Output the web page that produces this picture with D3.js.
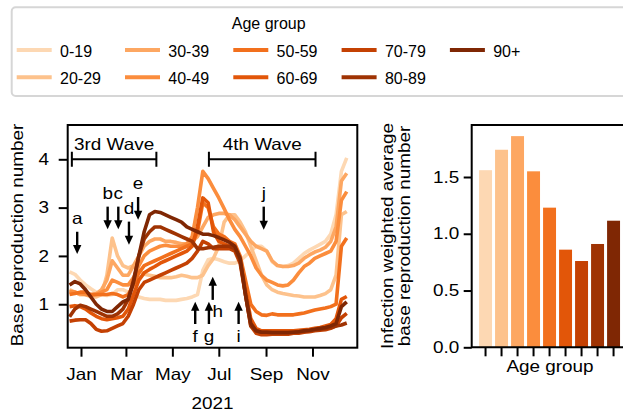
<!DOCTYPE html>
<html><head><meta charset="utf-8">
<script src="https://cdn.jsdelivr.net/npm/d3@7"></script>
<style>
body{margin:0;background:#fff}
text{font-family:"Liberation Sans",Arial,Helvetica,sans-serif;fill:#000}
</style></head><body>
<svg id="chart" width="623" height="413"></svg>
<script>
const ageGroups = ['0-19','20-29','30-39','40-49','50-59','60-69','70-79','80-89','90+'];

const dates = ['2020-12-17','2020-12-24','2020-12-31','2021-01-07','2021-01-14','2021-01-21','2021-01-28',
  '2021-02-04','2021-02-11','2021-02-18','2021-02-25','2021-03-04','2021-03-11','2021-03-18','2021-03-25',
  '2021-04-01','2021-04-08','2021-04-15','2021-04-22','2021-04-29','2021-05-06','2021-05-13','2021-05-20',
  '2021-05-27','2021-06-03','2021-06-10','2021-06-17','2021-06-24','2021-07-01','2021-07-08','2021-07-15',
  '2021-07-22','2021-07-29','2021-08-05','2021-08-12','2021-08-19','2021-08-26','2021-09-02','2021-09-09',
  '2021-09-16','2021-09-23','2021-09-30','2021-10-07','2021-10-14','2021-10-21','2021-10-28','2021-11-04',
  '2021-11-11','2021-11-18','2021-11-25','2021-12-02','2021-12-09','2021-12-16'];

const r0019 = [1.67,1.62,1.50,1.40,1.32,1.25,1.20,1.18,1.20,1.30,1.30,1.25,1.20,1.15,1.12,1.10,1.10,1.10,1.08,1.08,
  1.08,1.10,1.12,1.15,1.20,1.70,1.92,1.95,1.92,1.88,1.85,1.85,1.90,2.00,2.10,2.20,2.20,2.10,1.88,1.80,
  1.78,1.80,1.85,1.95,2.05,2.12,2.18,2.24,2.30,2.45,2.85,3.75,4.03];
const r2029 = [1.30,1.25,1.20,1.20,1.15,1.15,1.20,1.60,2.37,2.00,1.80,1.75,1.80,1.70,1.62,1.60,1.58,1.55,1.55,1.55,
  1.57,1.60,1.58,1.55,1.55,1.60,1.80,1.95,2.20,2.70,2.85,2.85,2.70,2.50,2.20,1.90,1.60,1.40,1.30,1.25,
  1.22,1.20,1.18,1.17,1.15,1.15,1.15,1.18,1.22,1.30,1.60,2.85,2.92];
const r3039 = [1.25,1.25,1.20,1.20,1.20,1.22,1.30,1.50,1.90,1.75,1.60,1.60,1.80,2.00,2.20,2.30,2.35,2.35,2.30,2.30,
  2.28,2.25,2.25,2.30,2.40,2.60,2.80,2.85,2.88,2.88,2.85,2.75,2.60,2.45,2.30,2.20,2.15,2.10,1.90,1.80,
  1.78,1.78,1.80,1.85,1.95,2.02,2.08,2.12,2.18,2.30,2.60,3.55,3.71];
const r4049 = [1.27,1.25,1.22,1.20,1.18,1.20,1.25,1.30,1.50,1.45,1.40,1.40,1.55,1.80,2.00,2.10,2.15,2.20,2.22,2.20,
  2.20,2.20,2.25,2.40,3.00,3.75,3.60,3.40,3.20,2.98,2.75,2.55,2.40,2.20,2.00,1.75,1.60,1.50,1.45,1.40,
  1.38,1.40,1.50,1.65,1.78,1.85,1.95,2.00,2.05,2.10,2.30,3.15,3.33];
const r5059 = [1.20,1.22,1.25,1.25,1.20,1.20,1.20,1.20,1.22,1.20,1.15,1.20,1.40,1.65,1.80,1.85,1.90,1.95,2.00,2.05,
  2.10,2.15,2.20,2.25,2.50,3.10,3.00,2.60,2.45,2.40,2.30,2.25,2.00,1.50,1.00,0.85,0.78,0.77,0.80,0.78,
  0.78,0.78,0.78,0.80,0.82,0.85,0.88,0.90,0.92,0.95,1.00,2.20,2.37];
const r6069 = [0.95,0.97,0.95,0.90,0.82,0.75,0.70,0.68,0.70,0.72,0.75,0.90,1.20,1.50,1.65,1.72,1.78,1.85,1.90,1.95,
  2.00,2.05,2.10,2.20,2.60,3.20,3.10,2.50,2.30,2.25,2.20,2.15,1.90,1.30,0.70,0.50,0.45,0.45,0.45,0.45,
  0.45,0.45,0.45,0.46,0.47,0.48,0.50,0.52,0.55,0.58,0.70,1.10,1.16];
const r7079 = [0.65,0.67,0.68,0.68,0.60,0.48,0.44,0.45,0.50,0.55,0.60,0.75,1.00,1.30,1.45,1.50,1.55,1.60,1.65,1.70,
  1.75,1.80,1.85,1.95,2.10,2.30,2.25,2.15,2.15,2.15,2.15,2.10,1.85,1.20,0.55,0.40,0.37,0.37,0.38,0.38,
  0.38,0.38,0.40,0.40,0.42,0.43,0.45,0.46,0.47,0.50,0.55,0.72,0.81];
const r8089 = [0.74,0.90,0.98,0.95,0.90,0.85,0.80,0.75,0.75,0.80,0.90,1.10,1.50,2.00,2.35,2.50,2.60,2.60,2.55,2.50,
  2.45,2.40,2.35,2.30,2.15,2.15,2.17,2.18,2.20,2.20,2.20,2.15,1.90,1.20,0.55,0.45,0.42,0.42,0.42,0.42,
  0.42,0.42,0.42,0.43,0.44,0.45,0.47,0.48,0.50,0.52,0.55,0.57,0.61];
const r90 = [1.40,1.47,1.42,1.30,1.15,1.00,0.90,0.85,0.85,0.95,1.05,1.10,1.45,2.00,2.50,2.85,2.92,2.90,2.85,2.80,
  2.75,2.70,2.60,2.55,2.50,2.45,2.45,2.42,2.38,2.33,2.28,2.20,1.95,1.20,0.60,0.45,0.42,0.42,0.41,0.41,
  0.41,0.41,0.42,0.43,0.45,0.46,0.48,0.50,0.52,0.55,0.60,0.95,1.05];
const series = [r0019, r2029, r3039, r4049, r5059, r6069, r7079, r8089, r90];

const barValues = [1.56, 1.74, 1.86, 1.55, 1.23, 0.86, 0.76, 0.91, 1.115];

const yTicksLeft = [1, 2, 3, 4];
const yTicksRight = [0.0, 0.5, 1.0, 1.5];

const waveLabels = ['3rd Wave', '4th Wave'];
const waveStart = ['2020-12-20', '2021-06-18'];
const waveEnd = ['2021-04-10', '2021-11-05'];
const waveLevel = 4.0;

const annLabels = ['a','b','c','d','e','f','g','h','i','j'];
const annDates = ['2020-12-27','2021-02-05','2021-02-19','2021-03-05','2021-03-17',
  '2021-05-31','2021-06-18','2021-06-23','2021-07-27','2021-08-29'];
const annFrom = [2.50, 3.02, 3.02, 2.71, 3.22, 0.59, 0.59, 1.09, 0.59, 3.02];
const annTo   = [2.04, 2.55, 2.55, 2.23, 2.75, 1.05, 1.05, 1.57, 1.05, 2.54];

const SX = 1.16;          // axis text in the figure is wider than Arial
const FS = 16.3;
const color = i => d3.interpolateOranges(0.2 + i * 0.1);
const parse = d3.timeParse('%Y-%m-%d');

const svg = d3.select('svg#chart');

// ---------- legend ----------
const leg = svg.append('g');
leg.append('rect').attr('x', 11.7).attr('y', 7.3).attr('width', 640).attr('height', 88.7)
  .attr('rx', 4).attr('fill', '#fff').attr('stroke', '#d6d6d6').attr('stroke-width', 2);
leg.append('text').attr('x', 268.7).attr('y', 29.3).attr('text-anchor', 'middle')
  .attr('font-size', 16).text('Age group');
ageGroups.forEach((a, i) => {
  const col = Math.floor(i / 2), row = i % 2;
  const lx = 16.7 + col * 108.3, ly = 50 + row * 27.3;
  leg.append('line').attr('x1', lx).attr('x2', lx + 35).attr('y1', ly).attr('y2', ly)
    .attr('stroke', color(i)).attr('stroke-width', 4);
  leg.append('text').attr('x', lx + 43.3).attr('y', ly + 6.5).attr('font-size', 16).text(a);
});

// ---------- left: time series ----------
const L = { left: 67.7, right: 357.3, top: 125, bottom: 347.7 };
const x = d3.scaleTime()
  .domain([new Date(2020, 11, 14, 13), new Date(2021, 11, 29, 21)])
  .range([L.left, L.right]);
const y = d3.scaleLinear().domain([0.1, 4.71]).range([L.bottom, L.top]);

const gl = svg.append('g');

const line = d3.line().x((d, i) => x(parse(dates[i]))).y(d => y(d));
series.forEach((s, i) => {
  gl.append('path').datum(s).attr('d', line)
    .attr('fill', 'none').attr('stroke', color(i)).attr('stroke-width', 3.6)
    .attr('stroke-linejoin', 'round');
});

function styleTicks(ax) {
  ax.select('.domain').remove();
  ax.selectAll('.tick line').attr('stroke', '#000').attr('stroke-width', 2);
  ax.selectAll('.tick text').attr('font-size', FS).attr('fill', '#000')
    .attr('font-family', '"Liberation Sans",Arial,sans-serif');
}

const xAx = gl.append('g').attr('transform', `translate(0,${L.bottom})`)
  .call(d3.axisBottom(x).ticks(d3.timeMonth.every(2)).tickFormat(d3.timeFormat('%b')).tickSize(9).tickPadding(12));
styleTicks(xAx);
xAx.selectAll('.tick text').attr('transform', `scale(${SX},1)`);

const yAx = gl.append('g').attr('transform', `translate(${L.left},0)`)
  .call(d3.axisLeft(y).tickValues(yTicksLeft).tickSize(9).tickFormat(d3.format('d')));
styleTicks(yAx);
yAx.selectAll('.tick text').attr('x', -18.7 / SX).attr('transform', `scale(${SX},1)`);

gl.append('rect').attr('x', L.left).attr('y', L.top)
  .attr('width', L.right - L.left).attr('height', L.bottom - L.top)
  .attr('fill', 'none').attr('stroke', '#000').attr('stroke-width', 2);

function label(g, px, py, s, anchor, rot) {
  return g.append('text')
    .attr('transform', `translate(${px},${py})` + (rot ? ' rotate(-90)' : '') + ` scale(${SX},1)`)
    .attr('text-anchor', anchor).attr('font-size', FS).text(s);
}

label(gl, (L.left + L.right) / 2, 409.3, '2021', 'middle');
label(gl, 23.3, 235, 'Base reproduction number', 'middle', true);

// wave brackets
waveLabels.forEach((w, i) => {
  const x0 = x(parse(waveStart[i])), x1 = x(parse(waveEnd[i])), yy = y(waveLevel);
  gl.append('path').attr('d', `M${x0},${yy - 7.5}V${yy + 7.5}M${x0},${yy}H${x1}M${x1},${yy - 7.5}V${yy + 7.5}`)
    .attr('stroke', '#000').attr('stroke-width', 2).attr('fill', 'none');
  label(gl, (x0 + x1) / 2, yy - 9, w, 'middle');
});

// annotation arrows
function arrow(g, ax, y0, y1) {
  const dir = Math.sign(y1 - y0), head = 9;
  g.append('line').attr('x1', ax).attr('x2', ax).attr('y1', y0).attr('y2', y1 - dir * (head - 1))
    .attr('stroke', '#000').attr('stroke-width', 2.4);
  g.append('path').attr('d', `M${ax - 4.2},${y1 - dir * head}L${ax + 4.2},${y1 - dir * head}L${ax},${y1}Z`)
    .attr('fill', '#000');
}
annLabels.forEach((a, i) => {
  const ax = x(parse(annDates[i])), y0 = y(annFrom[i]), y1 = y(annTo[i]);
  arrow(gl, ax, y0, y1);
  if (y1 > y0) label(gl, ax, y0 - 8, a, 'middle');
  else if (a === 'h') label(gl, ax + 5, y0 + 17, a, 'middle');
  else label(gl, ax, y0 + 17.5, a, 'middle');
});

// ---------- right: bars ----------
const R = { left: 471.7, right: 627.4, top: 125, bottom: 347.3 };
const xb = d3.scaleBand().domain(ageGroups).range([R.left, R.right]).paddingInner(0.19).paddingOuter(0.46);
const yb = d3.scaleLinear().domain([0, 1.958]).range([R.bottom, R.top]);

const gr = svg.append('g');
gr.selectAll('rect.bar').data(barValues).join('rect').attr('class', 'bar')
  .attr('x', (d, i) => xb(ageGroups[i])).attr('width', xb.bandwidth())
  .attr('y', d => yb(d)).attr('height', d => yb(0) - yb(d))
  .attr('fill', (d, i) => color(i));

const xbAx = gr.append('g').attr('transform', `translate(0,${R.bottom})`)
  .call(d3.axisBottom(xb).tickSize(9).tickFormat(''));
styleTicks(xbAx);
const ybAx = gr.append('g').attr('transform', `translate(${R.left},0)`)
  .call(d3.axisLeft(yb).tickValues(yTicksRight).tickSize(8).tickFormat(d3.format('.1f')));
styleTicks(ybAx);
ybAx.selectAll('.tick text').attr('x', -12.4 / SX).attr('transform', `scale(${SX},1)`);

gr.append('path').attr('d', `M${R.right},${R.top}H${R.left}V${R.bottom}H${R.right}`)
  .attr('fill', 'none').attr('stroke', '#000').attr('stroke-width', 2);

label(gr, 550, 371.5, 'Age group', 'middle');
label(gr, 393.3, 236, 'Infection weighted average', 'middle', true);
label(gr, 409.5, 236, 'base reproduction number', 'middle', true);
</script></body></html>
